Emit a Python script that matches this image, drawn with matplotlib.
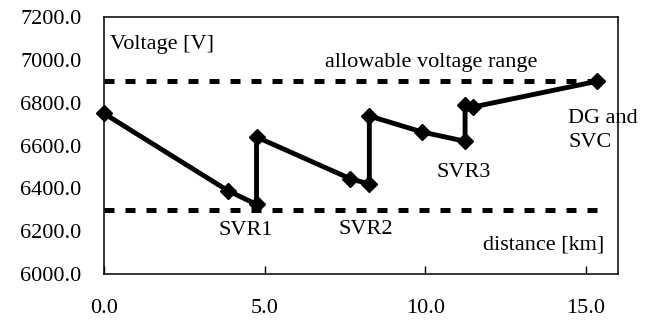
import matplotlib
matplotlib.use("Agg")
import matplotlib.pyplot as plt

# distance [km] and voltage [V] along the feeder
distance = [0.0, 3.85, 4.75, 4.75, 7.67, 8.26, 8.26, 9.91, 11.24, 11.24, 11.49, 15.34]
voltage = [6750, 6390, 6325, 6640, 6445, 6420, 6738, 6663, 6620, 6790, 6780, 6900]

v_upper, v_lower = 6900, 6300
range_end = 15.4

xticks = [0, 5, 10, 15]
yticks = [6000, 6200, 6400, 6600, 6800, 7000, 7200]

plt.rcParams["font.family"] = ["Liberation Serif", "DejaVu Serif"]
FS = 16

fig = plt.figure(figsize=(6.66, 3.22), dpi=100)
ax = fig.add_axes([0.156, 0.149, 0.772, 0.798])

ax.plot([0, range_end], [v_upper, v_upper], color="black", lw=3.6, dashes=(2, 2.2),
        solid_capstyle="butt", dash_capstyle="butt")
ax.plot([0, range_end], [v_lower, v_lower], color="black", lw=3.6, dashes=(2, 2.2),
        solid_capstyle="butt", dash_capstyle="butt")
ax.plot(distance, voltage, color="black", lw=3.5, marker="D", ms=8.5, mew=1,
        solid_joinstyle="miter", zorder=3, clip_on=False)

ax.set_xlim(0, 16)
ax.set_ylim(6000, 7200)
ax.set_xticks(xticks)
ax.set_xticklabels([f"{v:.1f}" for v in xticks], fontsize=FS)
ax.set_yticks(yticks)
ax.set_yticklabels([f"{v:.1f}" for v in yticks], fontsize=FS)
ax.tick_params(axis="x", direction="in", length=6, width=1, pad=18, colors="black")
ax.tick_params(axis="y", length=0, pad=16, colors="black")
for s in ax.spines.values():
    s.set_linewidth(1.1)
    s.set_color("black")

ax.text(0.2, 7070, "Voltage [V]", fontsize=FS, va="center", ha="left")
ax.text(10.2, 6990, "allowable voltage range", fontsize=FS, va="center", ha="center")
ax.text(4.4, 6205, "SVR1", fontsize=FS, va="center", ha="center")
ax.text(8.15, 6210, "SVR2", fontsize=FS, va="center", ha="center")
ax.text(11.2, 6476, "SVR3", fontsize=FS, va="center", ha="center")
ax.text(14.45, 6672, "DG and\nSVC", fontsize=FS, va="center", ha="left", linespacing=1.35)
ax.text(15.56, 6136, "distance [km]", fontsize=FS, va="center", ha="right")

fig.savefig("out.png", dpi=100, facecolor="white")
